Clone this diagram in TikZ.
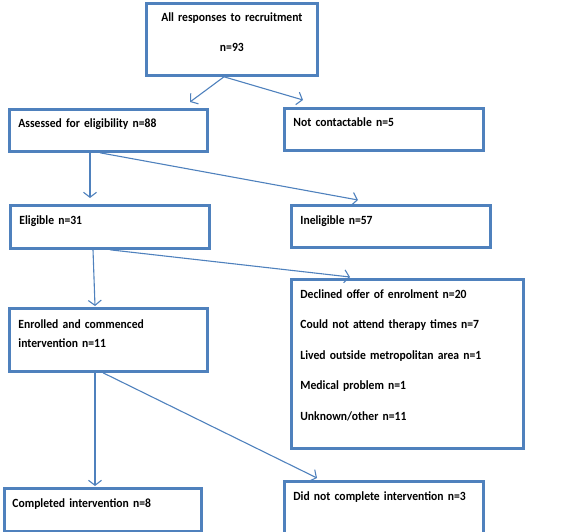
\documentclass[tikz,border=0pt]{standalone}
\usepackage{fontspec}
\setmainfont{Carlito}[FakeStretch=0.93]
\usetikzlibrary{positioning}
\usetikzlibrary{arrows.meta}
\definecolor{boxblue}{HTML}{4F81BD}

\begin{document}
\begin{tikzpicture}[x=1pt,y=-1pt,font=\fontsize{12.5}{19}\selectfont\bfseries,
    box/.style = {draw=boxblue, line width=2.8pt, anchor=north west, align=left, inner ysep=0pt, inner xsep=9pt},
    link/.style = {draw=boxblue, line width=1.1pt, -{Straight Barb[length=5pt,width=13pt,line width=1.1pt]}}]
        \useasboundingbox (0,0) rectangle (570,532);
        \node[box,align=center,text width=153pt,text height=18pt,text depth=54pt] (resp) at (145,2) {All responses to recruitment\\[11pt]n=93};
        \node[box,text width=180pt,text height=18pt,text depth=24pt] (assess) at (8,108) {Assessed for eligibility n=88};
        \node[box,text width=181pt,text height=18pt,text depth=24pt] (notcon) at (283,107) {Not contactable n=5};
        \node[box,text width=181pt,text height=19pt,text depth=24pt] (elig) at (9,204) {Eligible n=31};
        \node[box,text width=181pt,text height=19pt,text depth=23pt] (inelig) at (290,204) {Ineligible n=57};
        \node[box,text width=214pt,text height=19pt,text depth=150pt,font=\fontsize{12.5}{30.5}\selectfont\bfseries] (declined) at (290,278)
            {Declined offer of enrolment n=20\\Could not attend therapy times n=7\\Lived outside metropolitan area n=1\\Medical problem n=1\\Unknown/other n=11};
        \node[box,text width=180pt,text height=20pt,text depth=43pt] (enrol) at (8,307) {Enrolled and commenced\\intervention n=11};
        \node[box,inner xsep=8pt,text width=181pt,text height=19pt,text depth=24pt] (compl) at (3,487) {Completed intervention n=8};
        \node[box,text width=181pt,text height=19pt,text depth=33pt] (didnot) at (283,480) {Did not complete intervention n=3};
        % connectors
        \draw[link] ([xshift=79pt]resp.south west) -- ([xshift=182pt,yshift=6pt]assess.north west);
        \draw[link] ([xshift=79pt]resp.south west) -- ([xshift=20pt,yshift=7pt]notcon.north west);
        \draw[link] ([xshift=82pt]assess.south west) -- ([xshift=81pt,yshift=6pt]elig.north west);
        \draw[link] ([xshift=92pt]assess.south west) -- ([xshift=68pt,yshift=4pt]inelig.north west);
        \draw[link] ([xshift=84pt]elig.south west) -- ([xshift=87pt,yshift=1pt]enrol.north west);
        \draw[link] ([xshift=101pt]elig.south west) -- ([xshift=60pt,yshift=1pt]declined.north west);
        \draw[link] ([xshift=87pt]enrol.south west) -- ([xshift=92pt,yshift=1pt]compl.north west);
        \draw[link] ([xshift=95pt]enrol.south west) -- ([xshift=34pt,yshift=2pt]didnot.north west);
\end{tikzpicture}
\end{document}
